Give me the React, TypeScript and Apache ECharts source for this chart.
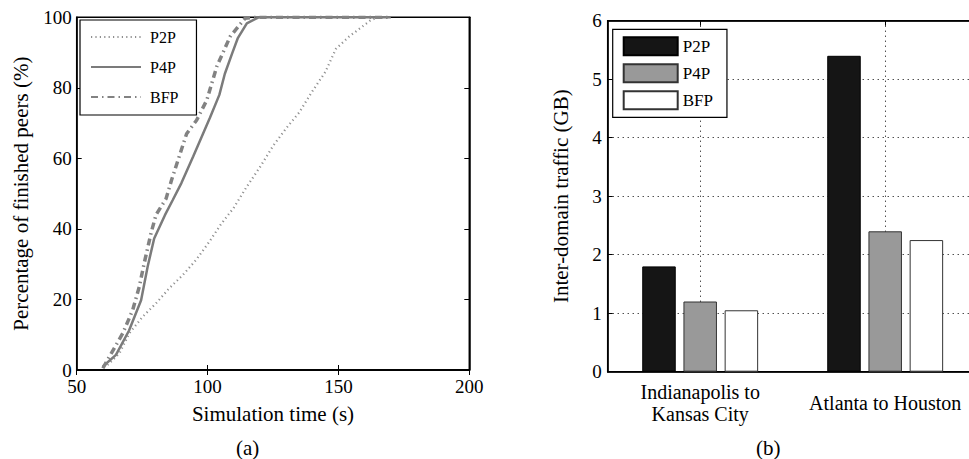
import React, { useEffect, useRef } from "react";
import * as echarts from "echarts";

// ---- Data: panel (a) CDF of finished peers ----
const seriesNames = ["P2P", "P4P", "BFP"];

const p2pCurve: [number, number][] = [
  [61.8, 1.4], [66.3, 4.7], [70.1, 10.4], [75.2, 15.1], [80.3, 18.9], [85.4, 23.2],
  [90.5, 26.9], [95.6, 31.2], [100.7, 36.4], [105, 41.2], [110, 46], [115, 52],
  [120, 57.5], [125, 63.5], [130, 68.5], [135, 73], [140, 79], [145, 84.5],
  [149, 91], [154, 94.5], [159, 97.3], [162, 99], [165, 100], [170, 100],
];
const p4pCurve: [number, number][] = [
  [60, 1], [65, 4.3], [70, 11.2], [74.6, 19.8], [77.1, 29.3], [79.6, 37.3],
  [83.7, 43.9], [86.7, 48.2], [90, 53], [94.5, 60.5], [100.9, 71.5], [104.5, 78],
  [106.6, 84], [109.5, 90], [111.5, 94], [115, 98.3], [119.5, 100], [170, 100],
];
const bfpCurve: [number, number][] = [
  [60, 0.5], [62.5, 3.8], [67.6, 10.4], [71.4, 17], [73.9, 23.6], [75.8, 30.3],
  [78.4, 38.8], [80.3, 44], [84.1, 48.5], [86.3, 54], [92, 67], [95.8, 70.8],
  [99.7, 76.5], [103.5, 86], [108.6, 94.5], [114.3, 99.7], [118, 100], [170, 100],
];

// ---- Data: panel (b) inter-domain traffic ----
const routes = ["Indianapolis to\nKansas City", "Atlanta to Houston"];
const p2pTraffic = [1.8, 5.4];
const p4pTraffic = [1.2, 2.4];
const bfpTraffic = [1.05, 2.25];

const FONT = "'Liberation Serif', 'Times New Roman', serif";

export default function App() {
  const ref = useRef<HTMLDivElement>(null);

  useEffect(() => {
    if (!ref.current) return;
    const chart = echarts.init(ref.current, undefined, { renderer: "svg" });

    const axisLine = { show: true, lineStyle: { color: "#000", width: 1.5 } };
    const tickIn = { show: true, inside: true, length: 5, lineStyle: { color: "#000", width: 1 } };
    const barSuffix = " (b)";
    const txt = (size: number) => ({ fontSize: size, color: "#000", fontFamily: FONT });

    const option: any = {
      animation: false,
      backgroundColor: "#fff",
      textStyle: { fontFamily: FONT, color: "#000" },
      grid: [
        { left: 76.7, top: 17.3, width: 392.6, height: 352.7, show: true, borderColor: "#000", borderWidth: 1.5, backgroundColor: "transparent" },
        { left: 607.7, top: 20.7, width: 370, height: 351, show: true, borderColor: "#000", borderWidth: 1.5, backgroundColor: "transparent" },
      ],
      xAxis: [
        {
          gridIndex: 0, type: "value", min: 50, max: 200, interval: 50,
          axisLine, axisTick: tickIn, splitLine: { show: false },
          axisLabel: { ...txt(19), margin: 7 },
          name: "Simulation time (s)", nameLocation: "middle", nameGap: 33,
          nameTextStyle: txt(21),
        },
        {
          gridIndex: 0, type: "value", position: "top", min: 50, max: 200, interval: 50,
          axisLine, axisTick: tickIn, splitLine: { show: false }, axisLabel: { show: false },
        },
        {
          gridIndex: 1, type: "category", data: routes,
          axisLine, axisTick: { ...tickIn, alignWithLabel: true }, splitLine: { show: false },
          axisLabel: { ...txt(20), interval: 0, margin: 31, lineHeight: 22, verticalAlign: "middle" },
        },
        {
          gridIndex: 1, type: "category", position: "top", data: routes,
          axisLine, axisTick: { ...tickIn, alignWithLabel: true }, splitLine: { show: false }, axisLabel: { show: false },
        },
      ],
      yAxis: [
        {
          gridIndex: 0, type: "value", min: 0, max: 100, interval: 20,
          axisLine, axisTick: tickIn, splitLine: { show: false },
          axisLabel: { ...txt(19), margin: 5 },
          name: "Percentage of finished peers (%)", nameLocation: "middle", nameGap: 45,
          nameTextStyle: txt(21),
        },
        {
          gridIndex: 0, type: "value", position: "right", min: 0, max: 100, interval: 20,
          axisLine, axisTick: tickIn, splitLine: { show: false }, axisLabel: { show: false },
        },
        {
          gridIndex: 1, type: "value", min: 0, max: 6, interval: 1,
          axisLine, axisTick: tickIn,
          splitLine: { show: true, lineStyle: { color: "#000", width: 1, type: [1, 4] } },
          axisLabel: { ...txt(19), margin: 6 },
          name: "Inter-domain traffic (GB)", nameLocation: "middle", nameGap: 36,
          nameTextStyle: txt(21),
        },
      ],
      legend: [
        {
          data: seriesNames,
          orient: "vertical", left: 80, top: 20,
          padding: [9, 18, 10, 10],
          itemWidth: 50, itemHeight: 14, itemGap: 14,
          itemStyle: { opacity: 0 },
          borderColor: "#000", borderWidth: 1.2, backgroundColor: "#fff",
          textStyle: { ...txt(16), padding: [0, 0, 0, 4] },
          selectedMode: false,
        },
        {
          data: seriesNames.map((n) => n + barSuffix),
          formatter: (n: string) => n.replace(barSuffix, ""),
          orient: "vertical", left: 612.7, top: 29.3,
          padding: [7, 14, 7, 10],
          itemWidth: 54, itemHeight: 18, itemGap: 7,
          icon: "rect",
          borderColor: "#000", borderWidth: 1.2, backgroundColor: "#fff",
          textStyle: txt(17),
          selectedMode: false,
        },
      ],
      series: [
        {
          name: "P2P", type: "line", xAxisIndex: 0, yAxisIndex: 0, data: p2pCurve,
          symbol: "none", showSymbol: false,
          lineStyle: { color: "#8f8f8f", width: 2.2, type: [1.2, 3.2] },
          itemStyle: { color: "#8f8f8f" },
        },
        {
          name: "P4P", type: "line", xAxisIndex: 0, yAxisIndex: 0, data: p4pCurve,
          symbol: "none", showSymbol: false,
          lineStyle: { color: "#7b7b7b", width: 2.5, type: "solid" },
          itemStyle: { color: "#7b7b7b" },
        },
        {
          name: "BFP", type: "line", xAxisIndex: 0, yAxisIndex: 0, data: bfpCurve,
          symbol: "none", showSymbol: false,
          lineStyle: { color: "#828282", width: 3.5, type: [7, 4, 1.5, 4] },
          itemStyle: { color: "#828282" },
        },
        {
          name: "P2P" + barSuffix, type: "bar", xAxisIndex: 2, yAxisIndex: 2, data: p2pTraffic,
          barWidth: 33.5, barGap: "23%",
          itemStyle: { color: "#151515", borderColor: "#000", borderWidth: 1 },
        },
        {
          name: "P4P" + barSuffix, type: "bar", xAxisIndex: 2, yAxisIndex: 2, data: p4pTraffic,
          barWidth: 33.5, barGap: "23%",
          itemStyle: { color: "#999999", borderColor: "#333", borderWidth: 1 },
          markLine: {
            silent: true, symbol: "none", z: 1,
            label: { show: false },
            lineStyle: { color: "#000", width: 1, type: [1, 4] },
            data: routes.map((r) => ({ xAxis: r })),
          },
        },
        {
          name: "BFP" + barSuffix, type: "bar", xAxisIndex: 2, yAxisIndex: 2, data: bfpTraffic,
          barWidth: 33.5, barGap: "23%",
          itemStyle: { color: "#ffffff", borderColor: "#333", borderWidth: 1 },
        },
      ],
      graphic: [
        { type: "text", left: 236, top: 437, style: { text: "(a)", fontSize: 21, fontFamily: FONT, fill: "#000" } },
        { type: "text", left: 756, top: 437, style: { text: "(b)", fontSize: 21, fontFamily: FONT, fill: "#000" } },
      ],
    };

    chart.setOption(option);
    return () => chart.dispose();
  }, []);

  return (
    <div
      ref={ref}
      style={{ position: "fixed", left: 0, top: 0, width: 985, height: 459, background: "#fff" }}
    />
  );
}
